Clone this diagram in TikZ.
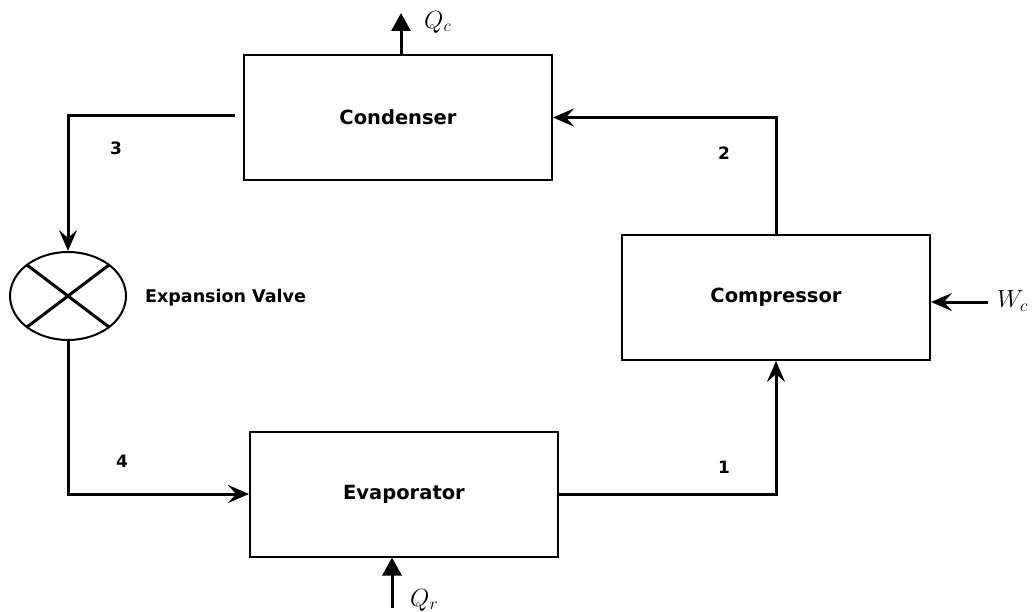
\documentclass[tikz,border=0pt]{standalone}
\usepackage{fontspec}
\newfontfamily\labelfont{DejaVu Sans}
\usetikzlibrary{arrows.meta,calc,shapes.geometric}

\tikzset{
  unit/.style={draw, line width=2pt, minimum width=308pt, minimum height=125pt,
               inner sep=0pt, font=\labelfont\bfseries\fontsize{19.5}{22}\selectfont},
  flow/.style={line width=3pt, -{Stealth[length=21pt,width=18pt,inset=8pt]}},
  heat/.style={line width=3pt, -{Triangle[length=18pt,width=19pt]}},
  tag/.style={font=\labelfont\bfseries\fontsize{17}{20}\selectfont, inner sep=0pt},
  mathtag/.style={font=\fontsize{24}{28}\selectfont, inner sep=0pt, anchor=west}
}

\begin{document}
\begin{tikzpicture}[x=1pt,y=-1pt]
  \useasboundingbox (0,0) rectangle (1035,612);

  % plant components
  \node[unit] (cond) at (398,117.5) {Condenser};
  \node[unit] (comp) at (776,297.5) {Compressor};
  \node[unit] (evap) at (404,494) {Evaporator};
  \node[draw, ellipse, line width=2pt, minimum width=116pt, minimum height=88pt,
        inner sep=0pt] (valve) at (68,296) {};
  \draw[line width=3pt] ($(valve.center)+(-41,-31)$) -- ($(valve.center)+(41,31)$);
  \draw[line width=3pt] ($(valve.center)+(41,-31)$) -- ($(valve.center)+(-41,31)$);
  \node[tag, anchor=west, font=\labelfont\bfseries\fontsize{17.5}{20}\selectfont]
    (vlabel) at (145,298) {Expansion Valve};

  % refrigerant loop
  \coordinate (c3) at (235,116);
  \draw[flow] (c3) -| (valve.north);
  \draw[flow] (valve.south) |- (evap.west);
  \draw[flow] (evap.east) -| (comp.south);
  \draw[flow] (comp.north) |- (cond.east);

  % state points
  \node[tag] (s1) at (724,467) {1};
  \node[tag] (s2) at (724,153) {2};
  \node[tag] (s3) at (116,148) {3};
  \node[tag] (s4) at (122,461) {4};

  % heat and work exchanges
  \coordinate (qc) at (401,13);
  \coordinate (qr) at (392,608);
  \coordinate (wc) at (988,302);
  \draw[heat] (qc |- cond.north) -- (qc);
  \draw[heat] (qr) -- (qr |- evap.south);
  \draw[flow] (wc) -- (wc -| comp.east);
  \node[mathtag] (lqc) at (424,22) {$Q_c$};
  \node[mathtag] (lqr) at (410,600) {$Q_r$};
  \node[mathtag] (lwc) at (997,301) {$W_c$};
\end{tikzpicture}
\end{document}
